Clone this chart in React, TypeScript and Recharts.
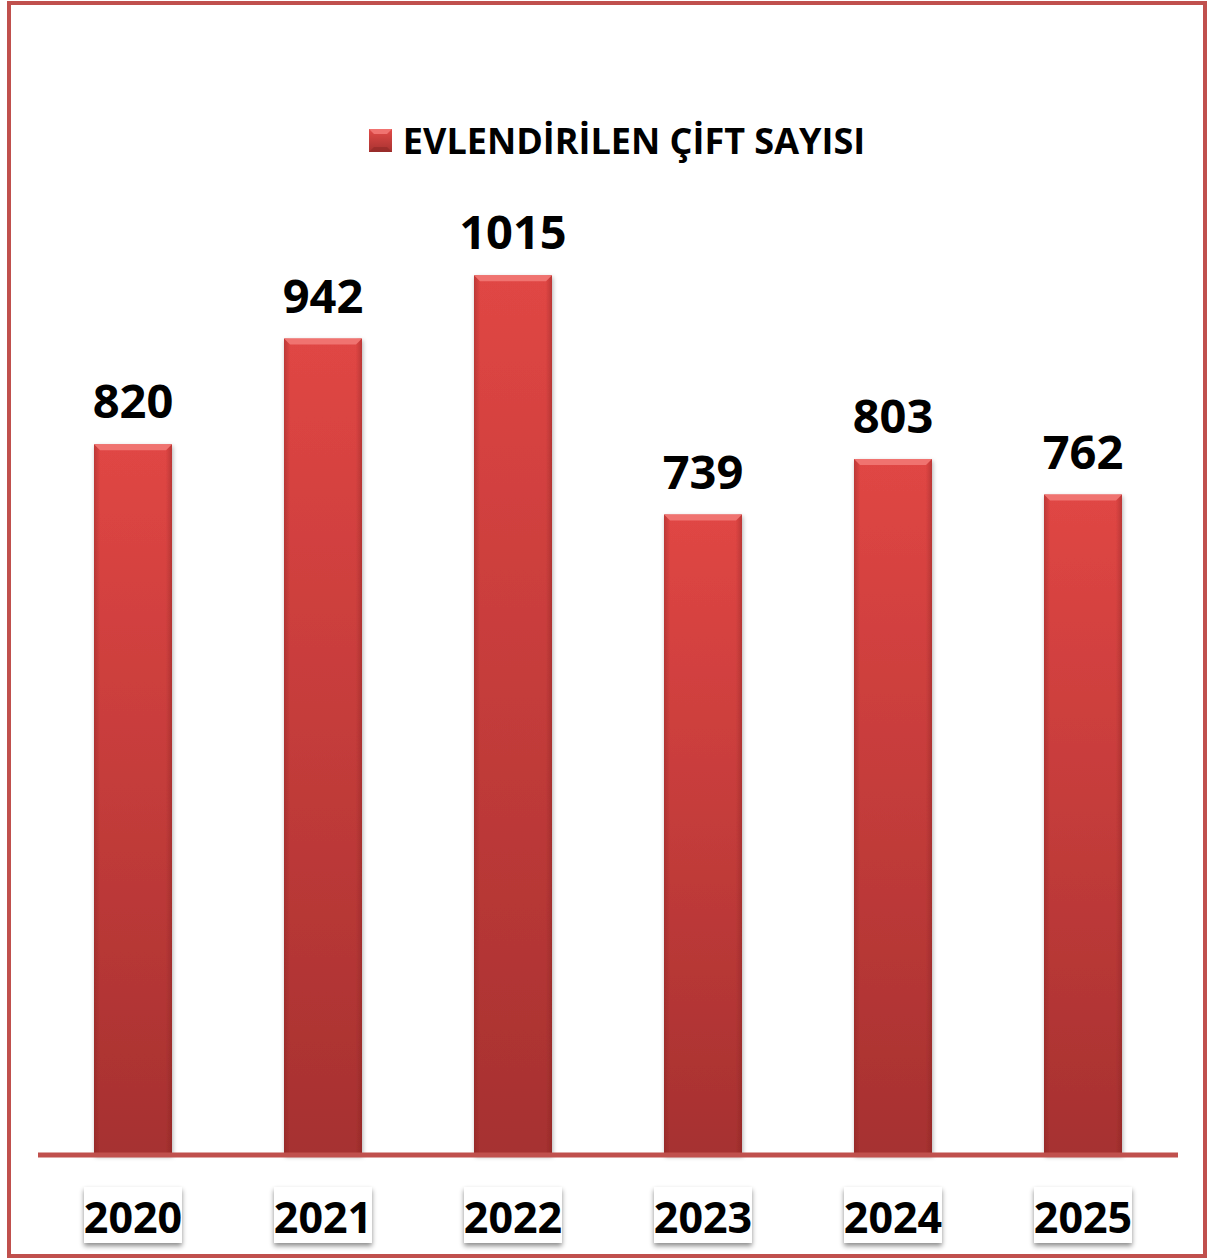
import { BarChart, Bar, XAxis, YAxis, Legend, LabelList } from "recharts";

const years = ["2020", "2021", "2022", "2023", "2024", "2025"];
const couples = [820, 942, 1015, 739, 803, 762];
const seriesName = "EVLENDİRİLEN ÇİFT SAYISI";

const data = years.map((year, i) => ({ year, value: couples[i] }));

const FONT = "'Open Sans', sans-serif";
const FRAME = "#c0504d";

const BevelBar = (props: any) => {
  const { x, y, width, height } = props;
  if (!height || height <= 0) return null;
  const b = 6;
  return (
    <g filter="url(#barShadow)">
      <rect x={x} y={y} width={width} height={height} fill="url(#barGrad)" />
      <rect x={x} y={y} width={width} height={height} fill="url(#barSide)" />
      <polygon
        points={`${x},${y} ${x + width},${y} ${x + width - b},${y + b} ${x + b},${y + b}`}
        fill="#f07370"
      />
    </g>
  );
};

const ValueLabel = (props: any) => {
  const { x, y, width, value } = props;
  return (
    <text
      x={x + width / 2}
      y={y - 26}
      textAnchor="middle"
      fontFamily={FONT}
      fontWeight={700}
      fontSize={47}
      fill="#000"
    >
      {value}
    </text>
  );
};

const YearTick = (props: any) => {
  const { x, y, payload } = props;
  return (
    <g>
      <rect x={x - 49} y={y + 32} width={98} height={56} fill="#fff" filter="url(#boxShadow)" />
      <text
        x={x}
        y={y + 78}
        textAnchor="middle"
        fontFamily={FONT}
        fontWeight={700}
        fontSize={43}
        fill="#000"
      >
        {payload.value}
      </text>
    </g>
  );
};

const LegendContent = () => (
  <div
    style={{
      height: 40,
      display: "flex",
      alignItems: "center",
      justifyContent: "center",
      fontFamily: FONT,
      fontWeight: 700,
      fontSize: 36,
      color: "#000",
      marginLeft: 24,
    }}
  >
    <svg width={23} height={23} style={{ marginRight: 11 }}>
      <defs>
        <linearGradient id="legGrad" x1="0" y1="0" x2="0" y2="1">
          <stop offset="0%" stopColor="#e24b48" />
          <stop offset="100%" stopColor="#a83230" />
        </linearGradient>
      </defs>
      <rect x={0} y={0} width={23} height={23} fill="url(#legGrad)" />
      <polygon points="0,0 23,0 18,5 5,5" fill="#f07370" />
      <polygon points="0,23 23,23 18,18 5,18" fill="#8e2826" opacity={0.6} />
    </svg>
    <span>{seriesName}</span>
  </div>
);

export default function App() {
  return (
    <div style={{ position: "absolute", left: 0, top: 0, width: 1210, height: 1260, background: "#fff" }}>
      <div
        style={{
          position: "absolute",
          left: 7,
          top: 1,
          width: 1192,
          height: 1249,
          border: `4px solid ${FRAME}`,
        }}
      />
      <div style={{ position: "absolute", left: 0, top: 0 }}>
        <BarChart
          width={1210}
          height={1260}
          data={data}
          margin={{ top: 75, right: 32, bottom: 0, left: 38 }}
          barCategoryGap={0}
        >
          <defs>
            <linearGradient id="barGrad" x1="0" y1="0" x2="0" y2="1">
              <stop offset="0%" stopColor="#e04644" />
              <stop offset="100%" stopColor="#a63130" />
            </linearGradient>
            <linearGradient id="barSide" x1="0" y1="0" x2="1" y2="0">
              <stop offset="0%" stopColor="#7a1e1c" stopOpacity={0.35} />
              <stop offset="8%" stopColor="#7a1e1c" stopOpacity={0} />
              <stop offset="92%" stopColor="#7a1e1c" stopOpacity={0} />
              <stop offset="100%" stopColor="#7a1e1c" stopOpacity={0.35} />
            </linearGradient>
            <filter id="barShadow" x="-20%" y="-5%" width="140%" height="110%">
              <feDropShadow dx={1} dy={2} stdDeviation={2} floodColor="#000" floodOpacity={0.3} />
            </filter>
            <filter id="boxShadow" x="-20%" y="-20%" width="140%" height="150%">
              <feDropShadow dx={0} dy={3} stdDeviation={2.5} floodColor="#000" floodOpacity={0.45} />
            </filter>
          </defs>
          <Legend
            verticalAlign="top"
            content={<LegendContent />}
            wrapperStyle={{ top: 120, left: 0, width: 1210 }}
          />
          <XAxis
            dataKey="year"
            height={105}
            tickLine={false}
            tickSize={0}
            tickMargin={0}
            axisLine={{ stroke: FRAME, strokeWidth: 5 }}
            tick={<YearTick />}
            interval={0}
          />
          <YAxis hide domain={[0, 1200]} />
          <Bar
            dataKey="value"
            name={seriesName}
            barSize={78}
            shape={<BevelBar />}
            isAnimationActive={false}
          >
            <LabelList dataKey="value" content={<ValueLabel />} />
          </Bar>
        </BarChart>
      </div>
    </div>
  );
}
